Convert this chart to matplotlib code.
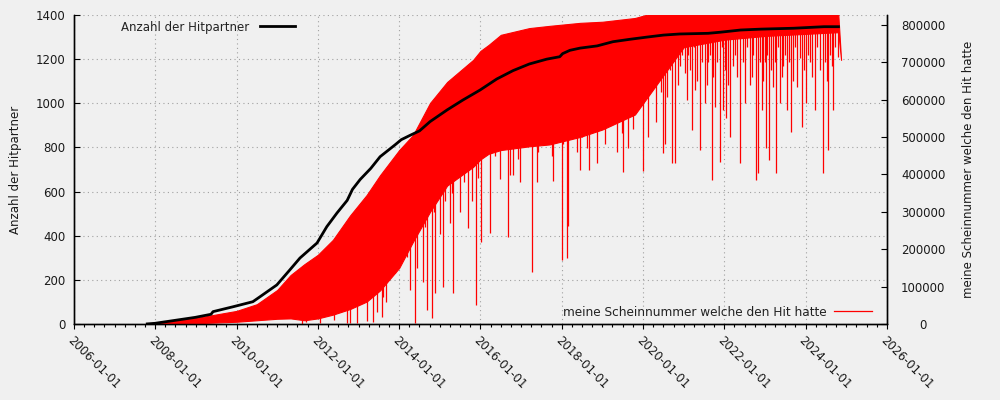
import numpy as np
import matplotlib
matplotlib.use("Agg")
import matplotlib.pyplot as plt
import matplotlib.dates as mdates
from matplotlib.lines import Line2D
from datetime import datetime, timedelta

# all dates as decimal years
partner_years = [2007.77, 2007.99, 2008.98, 2009.37, 2009.42, 2009.91, 2010.40, 2010.58,
                 2010.99, 2011.31, 2011.56, 2011.98, 2012.22, 2012.47, 2012.72, 2012.85,
                 2013.04, 2013.30, 2013.53, 2013.90, 2014.05, 2014.27, 2014.50, 2014.76,
                 2015.18, 2015.57, 2015.99, 2016.40, 2016.80, 2017.20, 2017.63, 2017.95,
                 2018.02, 2018.20, 2018.45, 2018.87, 2019.26, 2019.68, 2020.10, 2020.50,
                 2020.90, 2021.60, 2021.90, 2022.40, 2022.90, 2023.70, 2024.45, 2024.84]
partner_count = [0, 3, 30, 44, 56, 78, 101, 124,
                 177, 245, 299, 367, 441, 503, 560, 610,
                 655, 705, 758, 812, 835, 855, 875, 917,
                 970, 1015, 1060, 1110, 1148, 1178, 1200, 1211,
                 1225, 1240, 1250, 1260, 1279, 1290, 1300, 1309,
                 1314, 1317, 1322, 1332, 1336, 1340, 1347, 1347]

# red series: upper envelope and lower edge of the dense band
schein_years = [2007.75, 2008.0, 2009.0, 2010.0, 2010.5, 2011.0, 2011.33, 2011.67,
                2012.0, 2012.37, 2012.79, 2013.2, 2013.53, 2014.0, 2014.34, 2014.76,
                2015.18, 2015.82, 2016.0, 2016.2, 2016.5, 2016.85, 2017.2, 2017.7,
                2018.45, 2019.0, 2019.8, 2020.2, 2021.0, 2022.0, 2023.0, 2024.8, 2024.87]
schein_top = [0, 4000, 16000, 35000, 53000, 91000, 131000, 160000,
              185000, 225000, 290000, 345000, 398000, 465000, 505000, 591000,
              647000, 706000, 730000, 746000, 773000, 782000, 791000, 797000,
              805000, 808000, 818000, 830000, 830000, 830000, 830000, 830000, 706000]
schein_low = [0, 0, 2000, 6000, 10000, 14000, 15000, 10000,
              15000, 25000, 40000, 60000, 90000, 150000, 220000, 300000,
              370000, 420000, 440000, 455000, 465000, 470000, 475000, 480000,
              500000, 520000, 560000, 620000, 740000, 760000, 770000, 780000, 706000]

# deep downward spikes of the red series
spike_years = [2011.60, 2011.72, 2011.97, 2012.05, 2012.17, 2012.40, 2012.71, 2012.79,
               2012.95, 2013.20, 2013.36, 2013.45, 2013.49, 2013.57, 2013.61, 2013.68,
               2013.90, 2014.27, 2014.35, 2014.39, 2014.41, 2014.51, 2014.59, 2014.68,
               2014.76, 2014.80, 2014.88, 2014.92, 2015.08, 2015.17, 2015.25, 2015.32,
               2015.41, 2015.70, 2015.88, 2016.01, 2016.11, 2016.23, 2016.31, 2016.36,
               2016.48, 2016.60, 2016.68, 2016.73, 2016.77, 2016.81, 2016.93, 2016.97,
               2017.05, 2017.27, 2017.40, 2017.42, 2017.55, 2017.75, 2017.79, 2018.01,
               2018.04, 2018.14, 2018.16, 2018.28, 2018.37, 2018.45, 2018.49, 2018.61,
               2018.67, 2018.82, 2018.87, 2019.06, 2019.19, 2019.35, 2019.47, 2019.51,
               2019.64, 2019.76, 2020.00, 2020.13, 2020.20, 2020.33, 2020.50, 2020.54,
               2020.58, 2020.70, 2020.78, 2020.90, 2021.03, 2021.10, 2021.20, 2021.28,
               2021.40, 2021.52, 2021.60, 2021.69, 2021.77, 2021.89, 2021.97, 2022.05,
               2022.14, 2022.20, 2022.38, 2022.51, 2022.63, 2022.70, 2022.77, 2022.83,
               2022.92, 2023.00, 2023.02, 2023.10, 2023.20, 2023.27, 2023.37, 2023.45,
               2023.53, 2023.65, 2023.78, 2023.85, 2023.90, 2024.02, 2024.10, 2024.23,
               2024.35, 2024.42, 2024.56, 2024.60, 2024.68, 2024.80,
               2014.10, 2014.20, 2014.45, 2014.63, 2014.85, 2015.00, 2015.12, 2015.30,
               2015.50, 2015.60, 2015.78, 2015.95]
spike_vals = [0, 5000, 33000, 3000, 33000, 10000, 2000, 4000,
              4000, 8000, 6000, 33000, 349000, 20000, 73000, 60000,
              136000, 91000, 417000, 3000, 350000, 412000, 113000, 37000,
              372000, 16000, 83000, 479000, 100000, 390000, 270000, 83000,
              430000, 257000, 50000, 220000, 480000, 244000, 527000, 450000,
              388000, 500000, 233000, 398000, 470000, 398000, 440000, 380000,
              510000, 140000, 380000, 460000, 500000, 450000, 383000, 171000,
              480000, 176000, 262000, 520000, 460000, 412000, 500000, 470000,
              412000, 520000, 430000, 480000, 530000, 460000, 510000, 405000,
              470000, 520000, 410000, 500000, 700000, 540000, 457000, 480000,
              608000, 430000, 430000, 690000, 671000, 720000, 519000, 626000,
              465000, 591000, 700000, 385000, 581000, 434000, 572000, 550000,
              501000, 690000, 430000, 590000, 639000, 720000, 385000, 403000,
              572000, 700000, 470000, 438000, 634000, 403000, 590000, 690000,
              572000, 514000, 634000, 710000, 527000, 590000, 700000, 572000,
              680000, 403000, 465000, 720000, 572000, 715000,
              250000, 180000, 150000, 260000, 300000, 240000, 330000, 350000,
              300000, 380000, 330000, 390000]

# shallow spikes in the sparse last years
small_spike_years = [2020.25, 2020.40, 2020.45, 2020.65, 2020.85, 2020.95, 2021.07, 2021.15,
                     2021.24, 2021.33, 2021.45, 2021.56, 2021.64, 2021.73, 2021.82, 2021.93,
                     2022.01, 2022.10, 2022.25, 2022.31, 2022.45, 2022.56, 2022.67, 2022.88,
                     2022.96, 2023.06, 2023.14, 2023.24, 2023.32, 2023.41, 2023.49, 2023.58,
                     2023.70, 2023.74, 2023.95, 2024.06, 2024.15, 2024.28, 2024.47, 2024.52,
                     2024.64, 2024.73]
small_spike_vals = [650000, 700000, 620000, 680000, 640000, 720000, 600000, 680000,
                    740000, 650000, 700000, 640000, 720000, 660000, 700000, 740000,
                    680000, 640000, 720000, 660000, 700000, 740000, 660000, 700000,
                    650000, 720000, 680000, 700000, 740000, 660000, 720000, 700000,
                    650000, 740000, 680000, 720000, 660000, 740000, 700000, 650000,
                    690000, 740000]

x_ticks = [2006, 2008, 2010, 2012, 2014, 2016, 2018, 2020, 2022, 2024, 2026]


def to_date(y):
    year = int(y)
    start = datetime(year, 1, 1)
    length = (datetime(year + 1, 1, 1) - start).days
    return start + timedelta(days=(y - year) * length)


def nums(years):
    return mdates.date2num([to_date(v) for v in years])


bg = '#f0f0f0'
txt = '#1a1a1a'
fs = 8.5

fig = plt.figure(figsize=(10, 4), dpi=100, facecolor=bg)
ax = fig.add_axes([0.074, 0.19, 0.813, 0.7725])
ax.set_facecolor(bg)
ax2 = ax.twinx()
ax3 = ax.twinx()

# red series on the right axis
sx = nums(schein_years)
ax2.fill_between(sx, schein_low, schein_top, color='red', lw=0.8, edgecolor='red')
kx = nums(spike_years + small_spike_years)
kv = spike_vals + small_spike_vals
ax2.vlines(kx, kv, np.interp(kx, sx, schein_low) + 5000, color='red', lw=0.9)

# black series on a hidden copy of the left axis so it sits above red
ax3.plot(nums(partner_years), partner_count, color='black', lw=2.0, solid_capstyle='butt')

xmin, xmax = nums([2006, 2026])
for a in (ax, ax2, ax3):
    a.set_xlim(xmin, xmax)
ax.set_ylim(0, 1400)
ax3.set_ylim(0, 1400)
ax2.set_ylim(0, 826000)

ax.set_yticks(np.arange(0, 1401, 200))
ax2.set_yticks(np.arange(0, 800001, 100000))
ax.set_xticks(nums(x_ticks))
ax.xaxis.set_major_formatter(mdates.DateFormatter('%Y-%m-%d'))
ax.xaxis.set_minor_locator(mdates.MonthLocator(bymonth=[1, 4, 7, 10]))

ax.grid(True, color='#a0a0a0', linestyle=(0, (1, 3)), lw=0.8)
ax.set_axisbelow(True)

ax.tick_params(axis='y', direction='in', length=4.5, width=0.8, labelsize=fs,
               labelcolor=txt, pad=6)
ax.tick_params(axis='x', which='major', direction='out', length=3.5, width=0.8,
               labelsize=fs, labelcolor=txt, pad=4)
ax.tick_params(axis='x', which='minor', direction='out', length=1.8, width=0.8)
for lab in ax.get_xticklabels():
    lab.set_rotation(-45)
    lab.set_rotation_mode('anchor')
    lab.set_ha('left')
    lab.set_va('top')

ax2.tick_params(axis='y', direction='in', length=4.5, width=0.8, labelsize=fs,
                labelcolor=txt, pad=26)
for lab in ax2.get_yticklabels():
    lab.set_ha('center')

for a in (ax, ax2, ax3):
    a.spines['top'].set_visible(False)
    for s in ('left', 'right', 'bottom'):
        a.spines[s].set_linewidth(0.9)
ax3.set_yticks([])
ax3.tick_params(axis='x', which='both', bottom=False, labelbottom=False)
ax2.tick_params(axis='x', which='both', bottom=False, labelbottom=False)

ax.set_ylabel('Anzahl der Hitpartner', fontsize=fs, color=txt)
ax.yaxis.set_label_coords(-0.064, 0.5)
ax2.set_ylabel('meine Scheinnummer welche den Hit hatte', fontsize=fs, color=txt)
ax2.yaxis.set_label_coords(1.092, 0.5)

h1 = Line2D([], [], color='black', lw=2.0)
h2 = Line2D([], [], color='red', lw=0.9)
fig.legend([h1], ['Anzahl der Hitpartner'], loc='center right',
           bbox_to_anchor=(0.295, 0.9325), frameon=False, markerfirst=False,
           handlelength=3.0, handletextpad=0.85, borderpad=0, borderaxespad=0,
           fontsize=fs, labelcolor='#222222')
fig.legend([h2], ['meine Scheinnummer welche den Hit hatte'], loc='center right',
           bbox_to_anchor=(0.872, 0.22), frameon=False, markerfirst=False,
           handlelength=3.1, handletextpad=0.6, borderpad=0, borderaxespad=0,
           fontsize=8.75, labelcolor='#222222')

fig.savefig('out.png', dpi=100, facecolor=bg)
